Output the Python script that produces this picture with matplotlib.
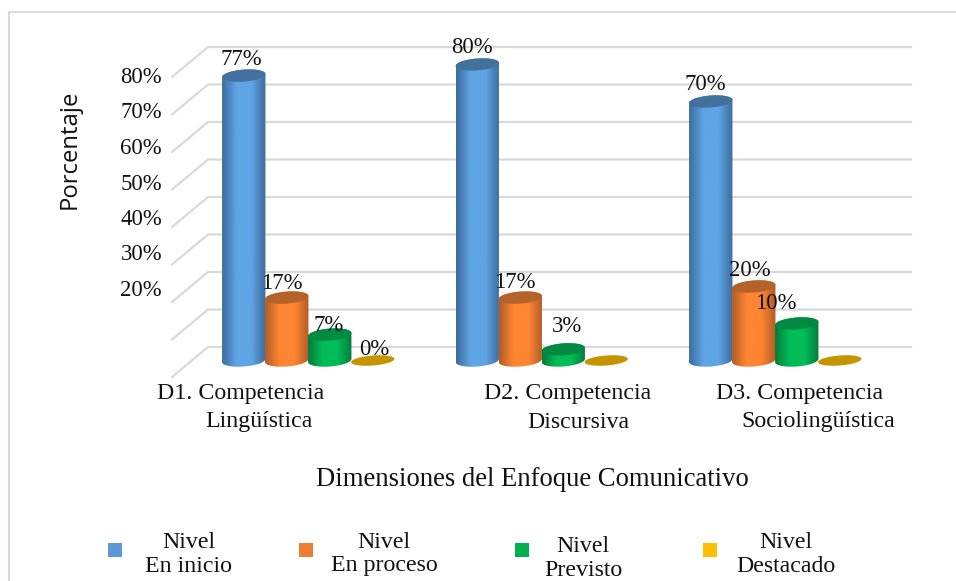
import numpy as np
import matplotlib
matplotlib.use("Agg")
import matplotlib.pyplot as plt
from matplotlib.colors import LinearSegmentedColormap
from matplotlib.patches import Polygon, Rectangle

# data
dimensions = ["D1", "D2", "D3"]
en_inicio = [77, 80, 70]
en_proceso = [17, 17, 20]
previsto = [7, 3, 10]
destacado = [0, 0, 0]
series_names = [("Nivel", "En inicio"), ("Nivel", "En proceso"), ("Nivel", "Previsto"), ("Nivel", "Destacado")]
grid_ticks = [0, 10, 20, 30, 40, 50, 60, 70, 80]
y_tick_values = [20, 30, 40, 50, 60, 70, 80]

W, H = 956, 581
SERIF = "Liberation Serif"
FS = 16.4
FS_CAT = 17.2
FS_TITLE = 19.2
GRID = "#d9d9d9"
INK = "#111111"

# edge, centre, top colours of each cylinder
styles = [
    ("#3c6c9c", "#5fa5e6", "#41719c", "#5b9bd5"),
    ("#b05c26", "#ff8533", "#b5612a", "#ed7d31"),
    ("#067a3c", "#00bd58", "#038a42", "#00b050"),
    ("#c49500", "#c49500", "#c49500", "#ffc000"),
]
# label shift in px from the top of the bar, None where the reference shows no label
label_shift = [
    [(-2, -16), (-5, -14), (-1, -9), (2, -11)],
    [(-5, -17), (-5, -15), (4, -23), None],
    [(-5, -17), (-4, -16), (-21, -20), None],
]

fig = plt.figure(figsize=(W / 100, H / 100), dpi=100, facecolor="white")


def px_axes(x0, x1, y0, y1):
    # axes placed by pixel box, y0 is the upper edge
    ax = fig.add_axes([x0 / W, 1 - y1 / H, (x1 - x0) / W, (y1 - y0) / H])
    ax.patch.set_visible(False)
    for s in ax.spines.values():
        s.set_visible(False)
    return ax


# page layer for frame, text and legend
page = px_axes(0, W, 0, H)
page.set_xlim(0, W)
page.set_ylim(H, 0)
page.axis("off")
page.plot([9, 9, W + 5], [H + 5, 12, 12], color=GRID, lw=1.5, clip_on=False)

# back wall, 80% at y=47 and 0% at y=347
wall = px_axes(0, W, 0, H)
wall.set_xlim(0, W)
wall.set_ylim((347 - H) / 3.75, 347 / 3.75)
wall.axis("off")
for v in grid_ticks:
    wall.plot([172, 208, 911], [v - 8, v, v], color=GRID, lw=1.6, solid_joinstyle="miter")

# y tick labels, they do not follow the wall spacing
tick_ax = px_axes(162, 200, 75, 288)
tick_ax.set_ylim(20, 80)
tick_ax.set_xticks([])
tick_ax.set_yticks(y_tick_values)
tick_ax.set_yticklabels([f"{v}%" for v in y_tick_values], fontfamily=SERIF, fontsize=FS, color=INK)
tick_ax.tick_params(axis="y", length=0, pad=0)

# bars, group 0 centred at px 309, 233.5 px between groups, 0% at y=360.5
PX_X = 233.5
PX_Y = 3.7
bars = px_axes(0, W, 0, H)
bars.axis("off")

BAR_W = 43.5
BAR_STEP = 43.0
SEMI_B = 6.0
TILT = np.radians(4.5)


def ellipse_pts(x, y, b=SEMI_B, start=0, stop=2 * np.pi):
    t = np.linspace(start, stop, 60)
    a = BAR_W / 2
    dx = a * np.cos(t) * np.cos(TILT) - b * np.sin(t) * np.sin(TILT)
    dy = a * np.cos(t) * np.sin(TILT) + b * np.sin(t) * np.cos(TILT)
    return np.column_stack([x + dx / PX_X, y + dy / PX_Y])


def cylinder(x, value, style, z):
    edge, centre, top, _ = style
    if value == 0:
        bars.add_patch(Polygon(ellipse_pts(x, 0, b=5.0), closed=True, fc=top, ec="none", zorder=z))
        return
    lower = ellipse_pts(x, 0, start=np.pi, stop=2 * np.pi)
    upper = ellipse_pts(x, value, start=0, stop=np.pi)
    body = Polygon(np.vstack([lower, upper]), closed=True, transform=bars.transData, fc="none", ec="none")
    bars.add_patch(body)
    cmap = LinearSegmentedColormap.from_list("c", [edge, centre, centre, edge], N=128)
    half = BAR_W / 2 / PX_X
    img = bars.imshow(np.linspace(0, 1, 128)[None, :], cmap=cmap, aspect="auto", zorder=z,
                      extent=[x - half, x + half, -3, value + 3], interpolation="bilinear")
    img.set_clip_path(body)
    bars.add_patch(Polygon(ellipse_pts(x, value), closed=True, fc=top, ec="none", zorder=z + 0.1))


series = [en_inicio, en_proceso, previsto, destacado]
z = 3
for g in range(len(dimensions)):
    for s, vals in enumerate(series):
        x = g + (s * BAR_STEP - 1.5 * BAR_W) / PX_X
        cylinder(x, vals[g], styles[s], z)
        z += 1
        if label_shift[g][s] is None:
            continue
        sx, sy = label_shift[g][s]
        bars.text(x + sx / PX_X, vals[g] - sy / PX_Y, f"{vals[g]}%", ha="center", va="center",
                  fontfamily=SERIF, fontsize=FS, color=INK, zorder=100)
bars.set_xlim(-309 / PX_X, (W - 309) / PX_X)
bars.set_ylim((360.5 - H) / PX_Y, 360.5 / PX_Y)

# category labels
cat_lines = [("D1. Competencia", "Lingüística"), ("D2. Competencia", "Discursiva"), ("D3. Competencia", "Sociolingüística")]
cat_pos = [(241, 259), (568, 578), (800, 818)]
for lines, xs in zip(cat_lines, cat_pos):
    page.text(xs[0], 394, lines[0], ha="center", va="center", fontfamily=SERIF, fontsize=FS_CAT, color=INK)
    page.text(xs[1], 422, lines[1], ha="center", va="center", fontfamily=SERIF, fontsize=FS_CAT, color=INK)

page.text(532, 479, "Dimensiones del Enfoque Comunicativo", ha="center", va="center",
          fontfamily=SERIF, fontsize=FS_TITLE, color=INK)
page.text(70, 149, "Porcentaje", rotation=90, ha="center", va="center",
          fontfamily="Open Sans", fontsize=17.2, color=INK)

# legend
leg_box = [108, 299, 515, 703]
leg_text = [189, 384, 583, 786]
leg_y = [(543, 567), (542, 566), (546, 570), (542, 566)]
for s, (name, sub) in enumerate(series_names):
    page.add_patch(Rectangle((leg_box[s], 543), 14, 14, fc=styles[s][3], ec="none"))
    page.text(leg_text[s], leg_y[s][0], name, ha="center", va="center", fontfamily=SERIF, fontsize=FS_CAT, color=INK)
    page.text(leg_text[s], leg_y[s][1], sub, ha="center", va="center", fontfamily=SERIF, fontsize=FS_CAT, color=INK)

fig.savefig("out.png", dpi=100)
